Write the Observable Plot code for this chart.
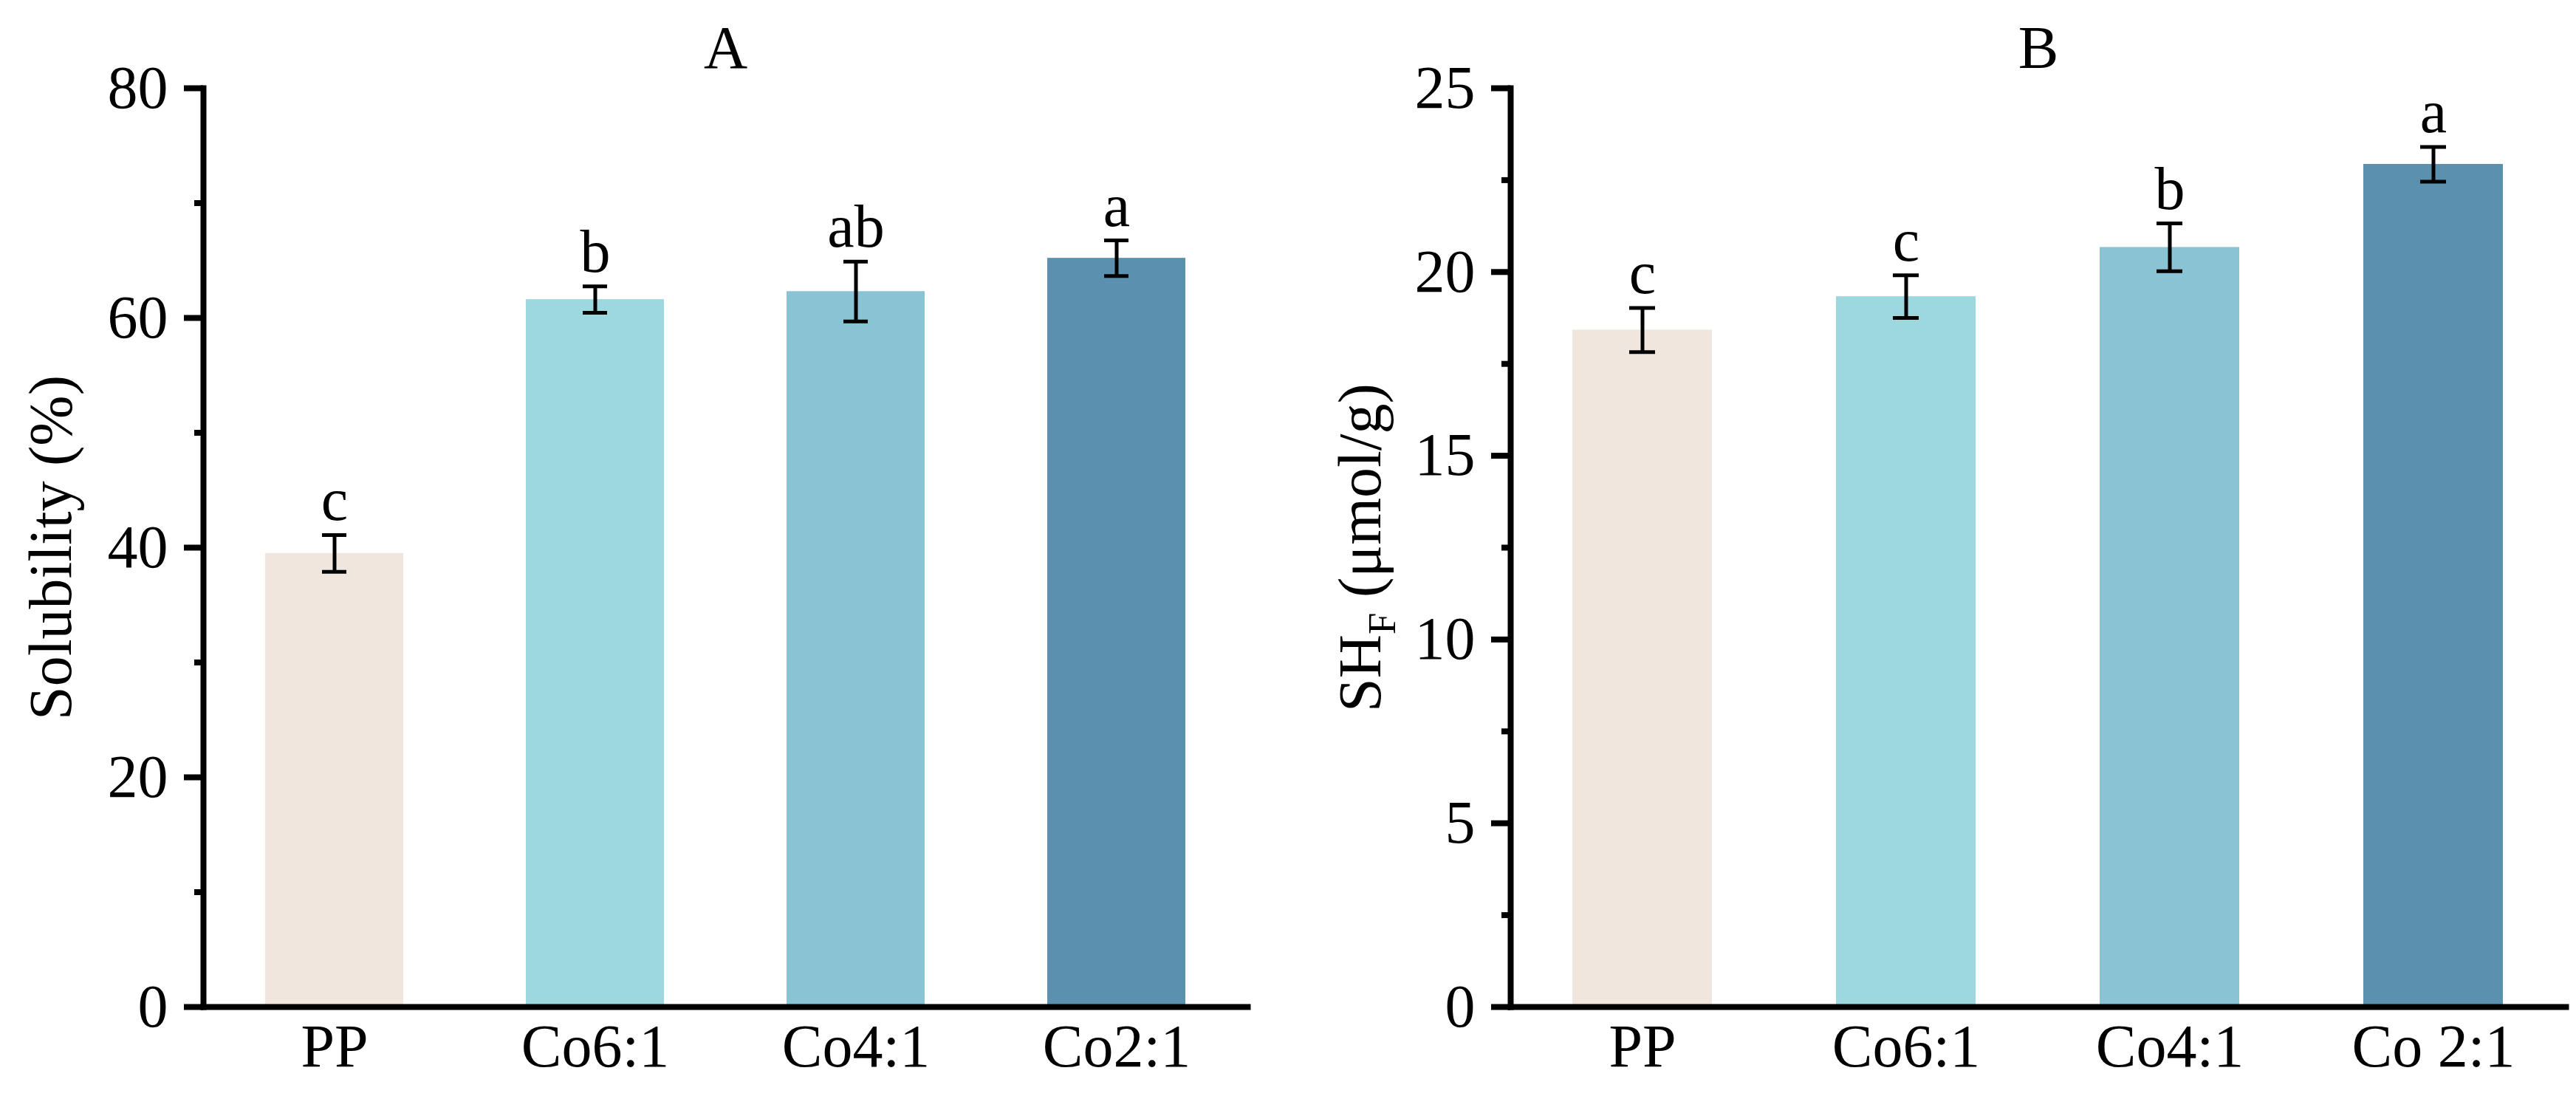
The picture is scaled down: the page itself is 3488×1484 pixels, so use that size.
<!DOCTYPE html>
<html>
<head>
<meta charset="utf-8">
<script src="https://cdn.jsdelivr.net/npm/d3@7"></script>
<script src="https://cdn.jsdelivr.net/npm/@observablehq/plot@0.6"></script>
<style>
  html, body { margin: 0; padding: 0; background: #ffffff; }
  #wrap { display: flex; flex-direction: row; width: 3488px; height: 1484px; }
  #wrap svg { display: block; }
</style>
</head>
<body>
<div id="wrap"></div>
<script>
// ---- data ----
const categoriesA = ["PP", "Co6:1", "Co4:1", "Co2:1"];
const solubility = [39.5, 61.6, 62.3, 65.2];
const solubilitySD = [1.6, 1.15, 2.6, 1.55];
const lettersA = ["c", "b", "ab", "a"];

const categoriesB = ["PP", "Co6:1", "Co4:1", "Co 2:1"];
const shf = [18.42, 19.33, 20.67, 22.93];
const shfSD = [0.6, 0.58, 0.65, 0.47];
const lettersB = ["c", "c", "b", "a"];

const barColors = ["#F0E6DE", "#9ED8DF", "#89C3D4", "#5B91AF"];

const majorTicksA = [0, 20, 40, 60, 80];
const minorTicksA = [10, 30, 50, 70];
const majorTicksB = [0, 5, 10, 15, 20, 25];
const minorTicksB = [2.5, 7.5, 12.5, 17.5, 22.5];

const FONT = "'Liberation Serif', 'Times New Roman', Times, serif";

function panel({cats, values, sds, letters, yMax, major, minor, title, ylabel, marginLeft, marginRight, labelDx}) {
  const data = cats.map((c, i) => ({cat: c, mean: values[i], sd: sds[i], letter: letters[i]}));
  return Plot.plot({
    width: 1744,
    height: 1484,
    marginLeft,
    marginRight,
    marginTop: 119,
    marginBottom: 121,
    style: {fontFamily: FONT, fontSize: "82px", color: "black", background: "white", overflow: "visible"},
    x: {domain: cats, paddingInner: 0.47, paddingOuter: 0.235, label: null},
    y: {domain: [0, yMax], label: null},
    color: {domain: cats, range: barColors},
    marks: [
      Plot.barY(data, {x: "cat", y: "mean", fill: "cat"}),
      Plot.ruleX(data, {x: "cat", y1: d => d.mean - d.sd, y2: d => d.mean + d.sd, stroke: "black", strokeWidth: 5}),
      Plot.tickY(data, {x: "cat", y: d => d.mean + d.sd, stroke: "black", strokeWidth: 5, insetLeft: 77, insetRight: 77}),
      Plot.tickY(data, {x: "cat", y: d => d.mean - d.sd, stroke: "black", strokeWidth: 5, insetLeft: 77, insetRight: 77}),
      Plot.text(data, {x: "cat", y: d => d.mean + d.sd, text: "letter", dy: -20, lineAnchor: "bottom", fill: "black"}),
      Plot.axisY({ticks: major, tickSize: 26, tickPadding: 22, strokeWidth: 8, tickFormat: d => String(d), label: null}),
      Plot.axisY({ticks: minor, tickSize: 12, strokeWidth: 8, tickFormat: () => "", label: null}),
      Plot.axisX({tickSize: 0, tickPadding: 22, label: null}),
      Plot.frame({anchor: "left", stroke: "black", strokeWidth: 8, strokeLinecap: "square"}),
      Plot.frame({anchor: "bottom", stroke: "black", strokeWidth: 8}),
      Plot.text([title], {frameAnchor: "top", dy: -28, lineAnchor: "bottom", text: d => d, fill: "black"}),
      Plot.text([ylabel], {frameAnchor: "left", rotate: -90, dx: labelDx, textAnchor: "middle", lineAnchor: "bottom", text: d => d, fill: "black"})
    ]
  });
}

const wrap = document.getElementById("wrap");

const chartA = panel({
  cats: categoriesA, values: solubility, sds: solubilitySD, letters: lettersA,
  yMax: 80, major: majorTicksA, minor: minorTicksA,
  title: "A", ylabel: "Solubility (%)", marginLeft: 275, marginRight: 55, labelDx: -180
});
const chartB = panel({
  cats: categoriesB, values: shf, sds: shfSD, letters: lettersB,
  yMax: 25, major: majorTicksB, minor: minorTicksB,
  title: "B", ylabel: "SHF (μmol/g)", marginLeft: 301, marginRight: 14, labelDx: -177
});
wrap.appendChild(chartA);
wrap.appendChild(chartB);

// subscript F in the B axis label
chartB.querySelectorAll("text").forEach(t => {
  if (t.textContent === "SHF (μmol/g)") {
    while (t.firstChild) t.removeChild(t.firstChild);
    const NS = "http://www.w3.org/2000/svg";
    t.appendChild(document.createTextNode("SH"));
    const sub = document.createElementNS(NS, "tspan");
    sub.setAttribute("font-size", "53px");
    sub.setAttribute("dy", "20");
    sub.textContent = "F";
    t.appendChild(sub);
    const rest = document.createElementNS(NS, "tspan");
    rest.setAttribute("dy", "-20");
    rest.textContent = " (μmol/g)";
    t.appendChild(rest);
  }
});
</script>
</body>
</html>
